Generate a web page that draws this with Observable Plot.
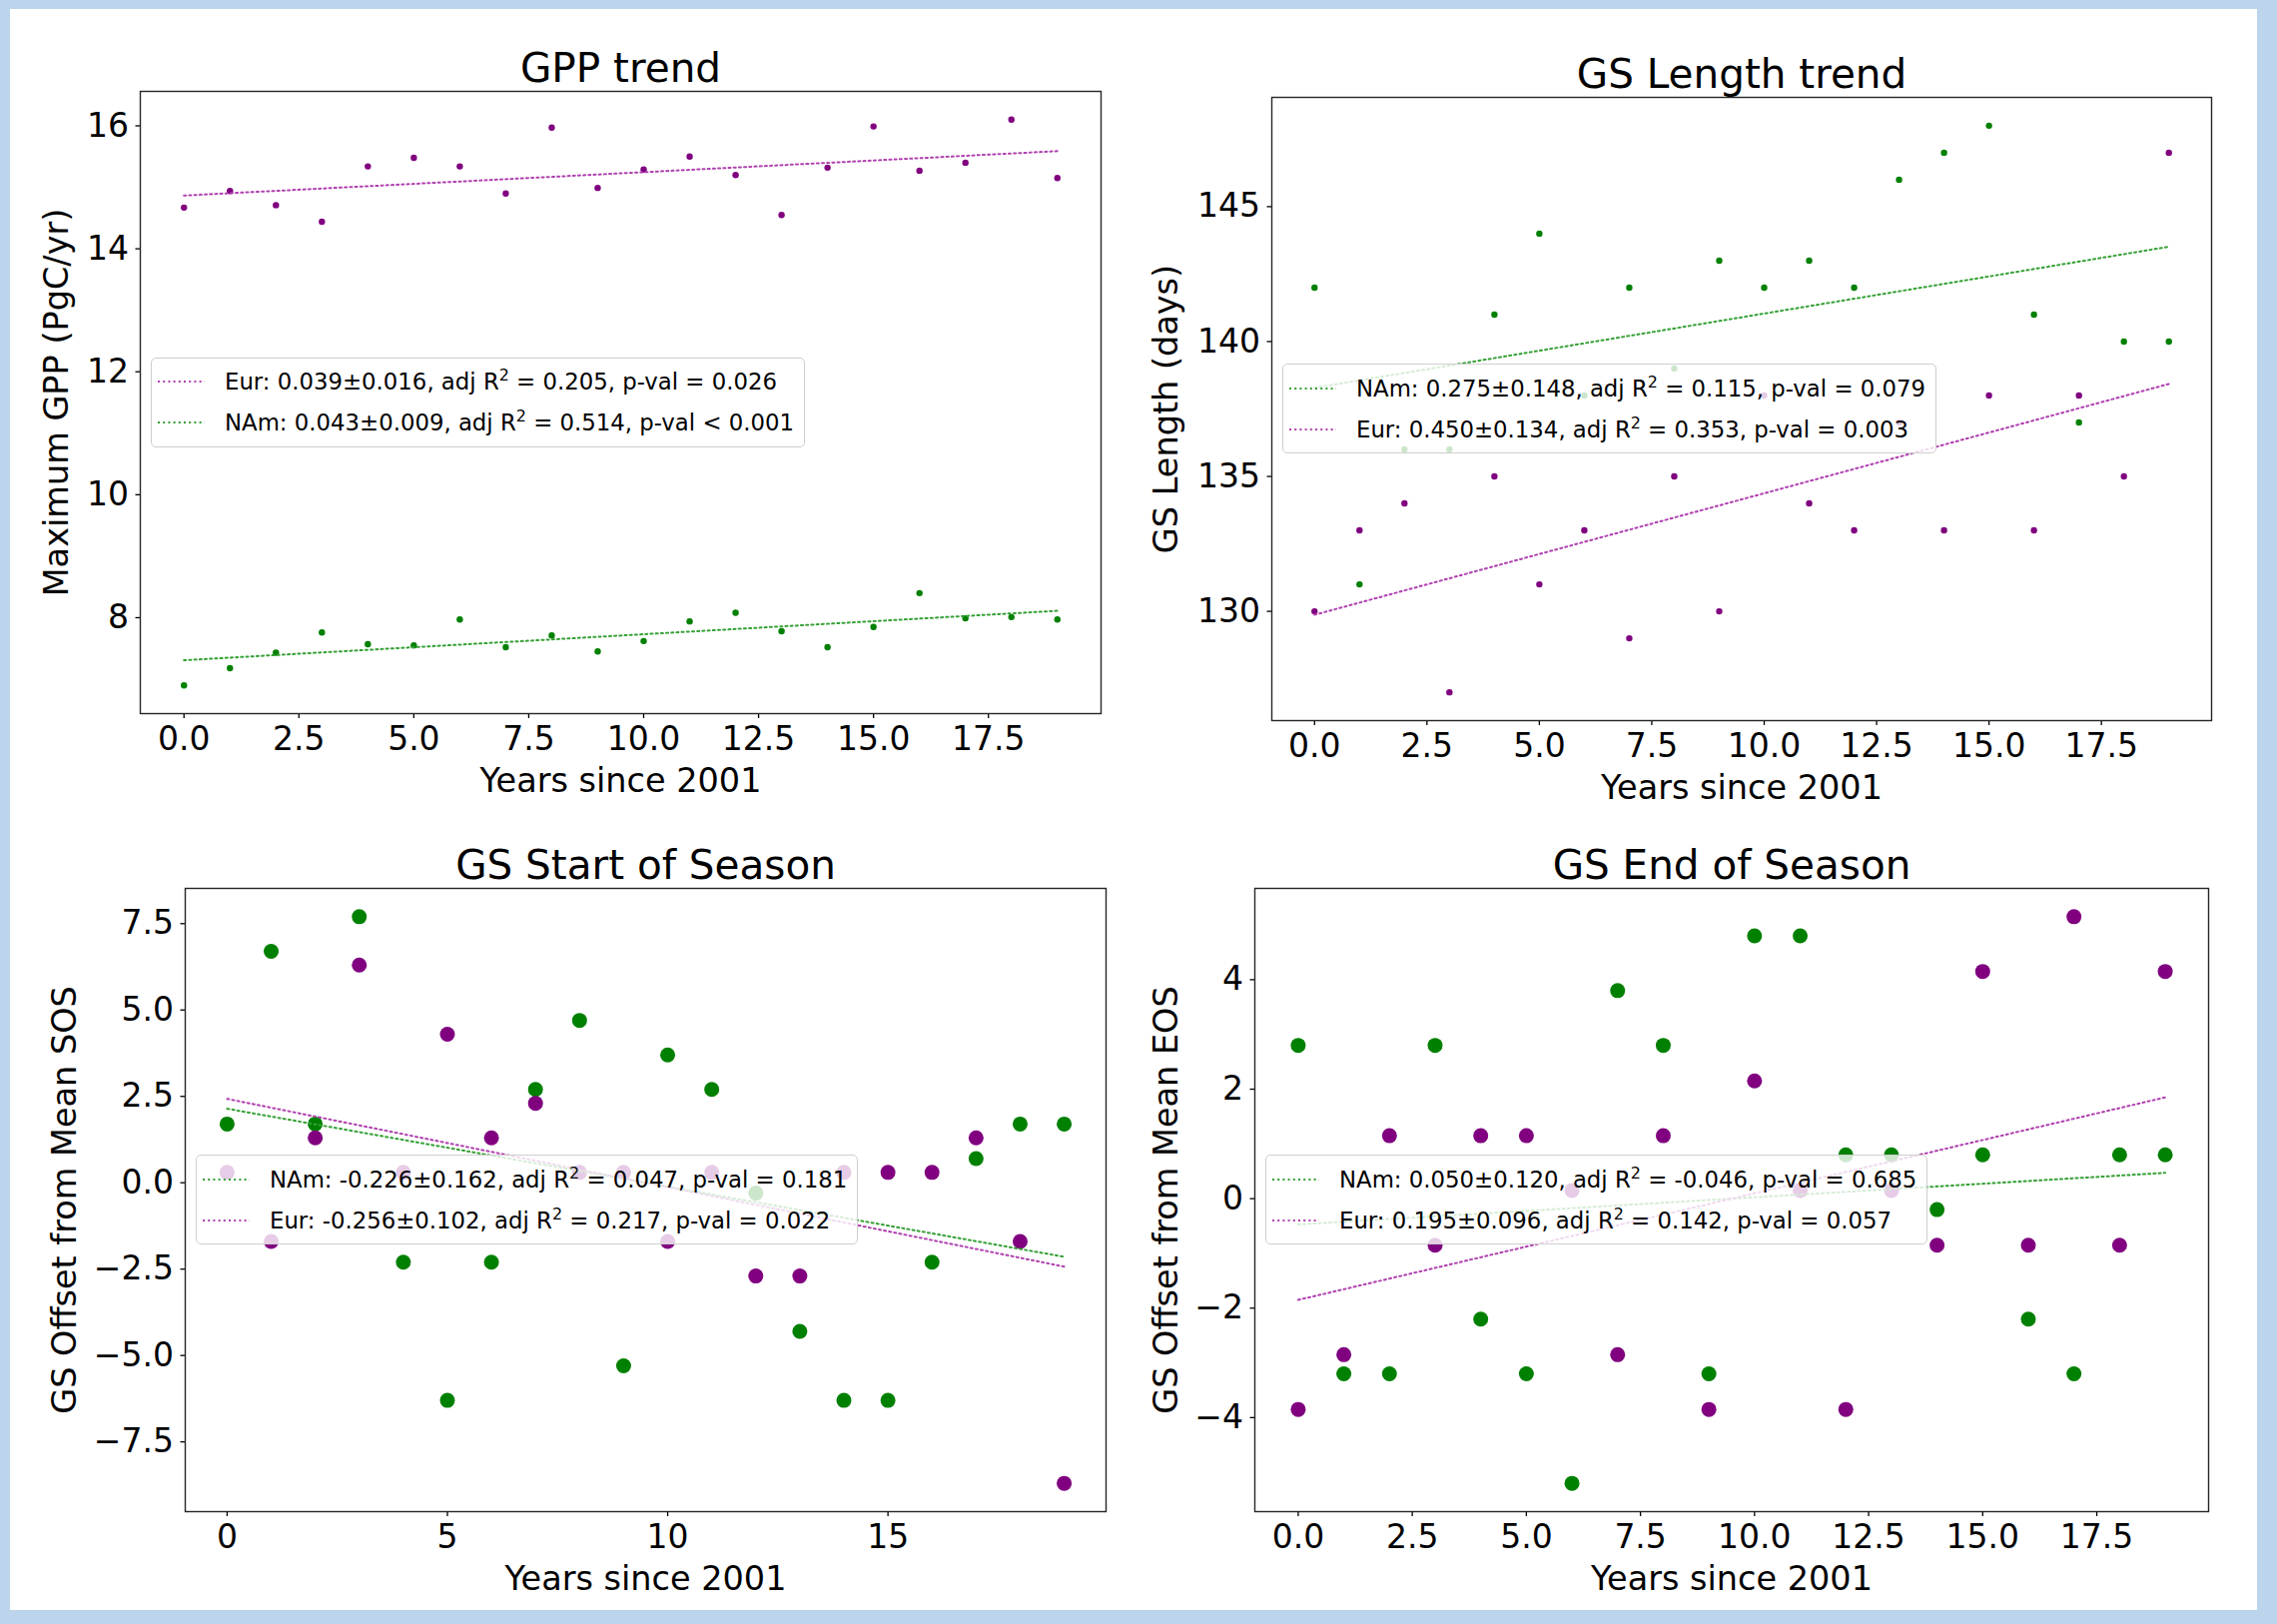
<!DOCTYPE html>
<html>
<head>
<meta charset="utf-8">
<script src="https://cdn.jsdelivr.net/npm/d3@7"></script>
<script src="https://cdn.jsdelivr.net/npm/@observablehq/plot@0.6"></script>
<style>
  html, body { margin: 0; padding: 0; }
  body { width: 2280px; height: 1626px; background: #bcd5ec; position: relative; overflow: hidden; font-family: "DejaVu Sans", sans-serif; }
  #sheet { position: absolute; left: 10px; top: 9px; width: 2250px; height: 1603px; background: #ffffff; }
  .panel-svg { position: absolute; }
  .legend { position: absolute; box-sizing: border-box; background: rgba(255,255,255,0.8); border: 1px solid #cfcfcf; border-radius: 5px; padding: 3px 10px 3px 6px; font-family: "DejaVu Sans", sans-serif; font-size: 22.8px; color: #000; white-space: nowrap; }
  .legend .row { height: 41px; display: flex; align-items: center; }
  .legend .row svg { margin-right: 20px; flex: none; }
  .legend sup { font-size: 0.7em; line-height: 0; vertical-align: 0.55em; }
</style>
</head>
<body>
<script>
// ---------------- data ----------------
const years = [0,1,2,3,4,5,6,7,8,9,10,11,12,13,14,15,16,17,18,19];

const gppEur = [14.67,14.94,14.71,14.44,15.34,15.48,15.34,14.90,15.97,14.99,15.29,15.50,15.20,14.55,15.32,15.99,15.27,15.40,16.10,15.15];
const gppNAm = [6.90,7.18,7.43,7.76,7.57,7.55,7.97,7.52,7.71,7.45,7.62,7.94,8.08,7.78,7.52,7.85,8.40,7.99,8.01,7.97];

const gslNAm = [142,131,136,136,141,144,138,142,139,143,142,143,142,146,147,148,141,137,140,140];
const gslEur = [130,133,134,127,135,131,133,129,135,130,138,134,133,137,133,138,133,138,135,147];

const sosNAm = [1.7,6.7,1.7,7.7,-2.3,-6.3,-2.3,2.7,4.7,-5.3,3.7,2.7,-0.3,-4.3,-6.3,-6.3,-2.3,0.7,1.7,1.7];
const sosEur = [0.3,-1.7,1.3,6.3,0.3,4.3,1.3,2.3,0.3,0.3,-1.7,0.3,-2.7,-2.7,0.3,0.3,0.3,1.3,-1.7,-8.7];

const eosNAm = [2.8,-3.2,-3.2,2.8,-2.2,-3.2,-5.2,3.8,2.8,-3.2,4.8,4.8,0.8,0.8,-0.2,0.8,-2.2,-3.2,0.8,0.8];
const eosEur = [-3.85,-2.85,1.15,-0.85,1.15,1.15,0.15,-2.85,1.15,-3.85,2.15,0.15,-3.85,0.15,-0.85,4.15,-0.85,5.15,-0.85,4.15];

// tick labels
const xTicksFine = [0,2.5,5,7.5,10,12.5,15,17.5];
const xTicksCoarse = [0,5,10,15];
const gppYTicks = [8,10,12,14,16];
const gslYTicks = [130,135,140,145];
const sosYTicks = [-7.5,-5,-2.5,0,2.5,5,7.5];
const eosYTicks = [-4,-2,0,2,4];

// titles and axis labels
const titles = ["GPP trend", "GS Length trend", "GS Start of Season", "GS End of Season"];
const xLabel = "Years since 2001";
const yLabels = ["Maximum GPP (PgC/yr)", "GS Length (days)", "GS Offset from Mean SOS", "GS Offset from Mean EOS"];

// legend entries: [series, text before R, text after R²]
const gppLegend = [["Eur", "Eur: 0.039\u00b10.016, adj R", " = 0.205, p-val = 0.026"], ["NAm", "NAm: 0.043\u00b10.009, adj R", " = 0.514, p-val < 0.001"]];
const gslLegend = [["NAm", "NAm: 0.275\u00b10.148, adj R", " = 0.115, p-val = 0.079"], ["Eur", "Eur: 0.450\u00b10.134, adj R", " = 0.353, p-val = 0.003"]];
const sosLegend = [["NAm", "NAm: -0.226\u00b10.162, adj R", " = 0.047, p-val = 0.181"], ["Eur", "Eur: -0.256\u00b10.102, adj R", " = 0.217, p-val = 0.022"]];
const eosLegend = [["NAm", "NAm: 0.050\u00b10.120, adj R", " = -0.046, p-val = 0.685"], ["Eur", "Eur: 0.195\u00b10.096, adj R", " = 0.142, p-val = 0.057"]];

// ---------------- styling ----------------
const dotColor = {Eur: "purple", NAm: "green"};
const lineColor = {Eur: "#b040b0", NAm: "#34a034"};
const FONT = "DejaVu Sans";
const DASH = "2,3.2";
const LW = 2;

function rows(nam, eur) {
  return years.flatMap((yr, i) => [
    {series: "NAm", x: yr, y: nam[i]},
    {series: "Eur", x: yr, y: eur[i]}
  ]);
}

const panels = [
  {frame: [140, 91, 1102, 714], data: rows(gppNAm, gppEur), yTicks: gppYTicks, yFmt: "d", xTicks: xTicksFine, xFmt: ".1f",
   title: titles[0], yLabel: yLabels[0], yLabelOffset: 96, r: 3.2, legend: gppLegend, order: ["Eur", "NAm"]},
  {frame: [1273, 97, 2214, 721], data: rows(gslNAm, gslEur), yTicks: gslYTicks, yFmt: "d", xTicks: xTicksFine, xFmt: ".1f",
   title: titles[1], yLabel: yLabels[1], yLabelOffset: 118, r: 3.2, legend: gslLegend, order: ["NAm", "Eur"]},
  {frame: [185, 889, 1107, 1513], data: rows(sosNAm, sosEur), yTicks: sosYTicks, yFmt: ".1f", xTicks: xTicksCoarse, xFmt: "d",
   title: titles[2], yLabel: yLabels[2], yLabelOffset: 133, r: 7.5, legend: sosLegend, order: ["NAm", "Eur"]},
  {frame: [1256, 889, 2211, 1513], data: rows(eosNAm, eosEur), yTicks: eosYTicks, yFmt: "d", xTicks: xTicksFine, xFmt: ".1f",
   title: titles[3], yLabel: yLabels[3], yLabelOffset: 101, r: 7.5, legend: eosLegend, order: ["NAm", "Eur"]}
];

function paddedDomain(values) {
  const [lo, hi] = d3.extent(values);
  const m = (hi - lo) * 0.05;
  return [lo - m, hi + m];
}

const sheet = document.createElement("div");
sheet.id = "sheet";
document.body.appendChild(sheet);

const ML = 170, MT = 70, MR = 20, MB = 100;

for (const p of panels) {
  const [x0, y0, x1, y1] = p.frame;
  const fw = x1 - x0, fh = y1 - y0;
  const svg = Plot.plot({
    width: fw + ML + MR,
    height: fh + MT + MB,
    marginLeft: ML, marginTop: MT, marginRight: MR, marginBottom: MB,
    style: {fontFamily: FONT, background: "transparent", color: "#000", overflow: "visible"},
    x: {domain: paddedDomain(years)},
    y: {domain: paddedDomain(p.data.map(d => d.y))},
    marks: [
      Plot.axisX({ticks: p.xTicks, tickFormat: d3.format(p.xFmt), tickSize: 5, tickPadding: 8, fontSize: 33, label: null, strokeWidth: 1.3}),
      Plot.axisY({ticks: p.yTicks, tickFormat: d3.format(p.yFmt), tickSize: 4.5, tickPadding: 7, fontSize: 33, label: null, strokeWidth: 1.3}),
      Plot.dot(p.data, {x: "x", y: "y", r: p.r, fill: d => dotColor[d.series], stroke: "none"}),
      ...p.order.map(s => Plot.linearRegressionY(p.data.filter(d => d.series === s), {x: "x", y: "y", ci: 0, stroke: lineColor[s], strokeWidth: LW, strokeDasharray: DASH})),
      Plot.frame({stroke: "#262626", strokeWidth: 1.4}),
      Plot.text([p.title], {frameAnchor: "top", dy: -10, lineAnchor: "bottom", textAnchor: "middle", fontSize: 40.5, fill: "#000"}),
      Plot.text([xLabel], {frameAnchor: "bottom", dy: 78, lineAnchor: "bottom", textAnchor: "middle", fontSize: 33.5, fill: "#000"}),
      Plot.text([p.yLabel], {frameAnchor: "left", dx: -p.yLabelOffset, rotate: -90, lineAnchor: "top", textAnchor: "middle", fontSize: 33.5, fill: "#000"})
    ]
  });
  svg.classList.add("panel-svg");
  svg.style.left = (x0 - 10 - ML) + "px";
  svg.style.top = (y0 - 9 - MT) + "px";
  sheet.appendChild(svg);

  // legend ("center left" inside the axes frame)
  const lg = document.createElement("div");
  lg.className = "legend";
  lg.style.left = (x0 - 10 + 11) + "px";
  lg.style.top = (y0 - 9 + fh / 2 - 45) + "px";
  for (const [series, pre, post] of p.legend) {
    const row = document.createElement("div");
    row.className = "row";
    const ns = "http://www.w3.org/2000/svg";
    const h = document.createElementNS(ns, "svg");
    h.setAttribute("width", 47); h.setAttribute("height", 6);
    const ln = document.createElementNS(ns, "line");
    ln.setAttribute("x1", 0); ln.setAttribute("x2", 47); ln.setAttribute("y1", 3); ln.setAttribute("y2", 3);
    ln.setAttribute("stroke", lineColor[series]); ln.setAttribute("stroke-width", LW); ln.setAttribute("stroke-dasharray", DASH);
    h.appendChild(ln);
    row.appendChild(h);
    const span = document.createElement("span");
    span.append(pre);
    const sup = document.createElement("sup");
    sup.textContent = "2";
    span.append(sup);
    span.append(post);
    row.appendChild(span);
    lg.appendChild(row);
  }
  sheet.appendChild(lg);
}
</script>
</body>
</html>
